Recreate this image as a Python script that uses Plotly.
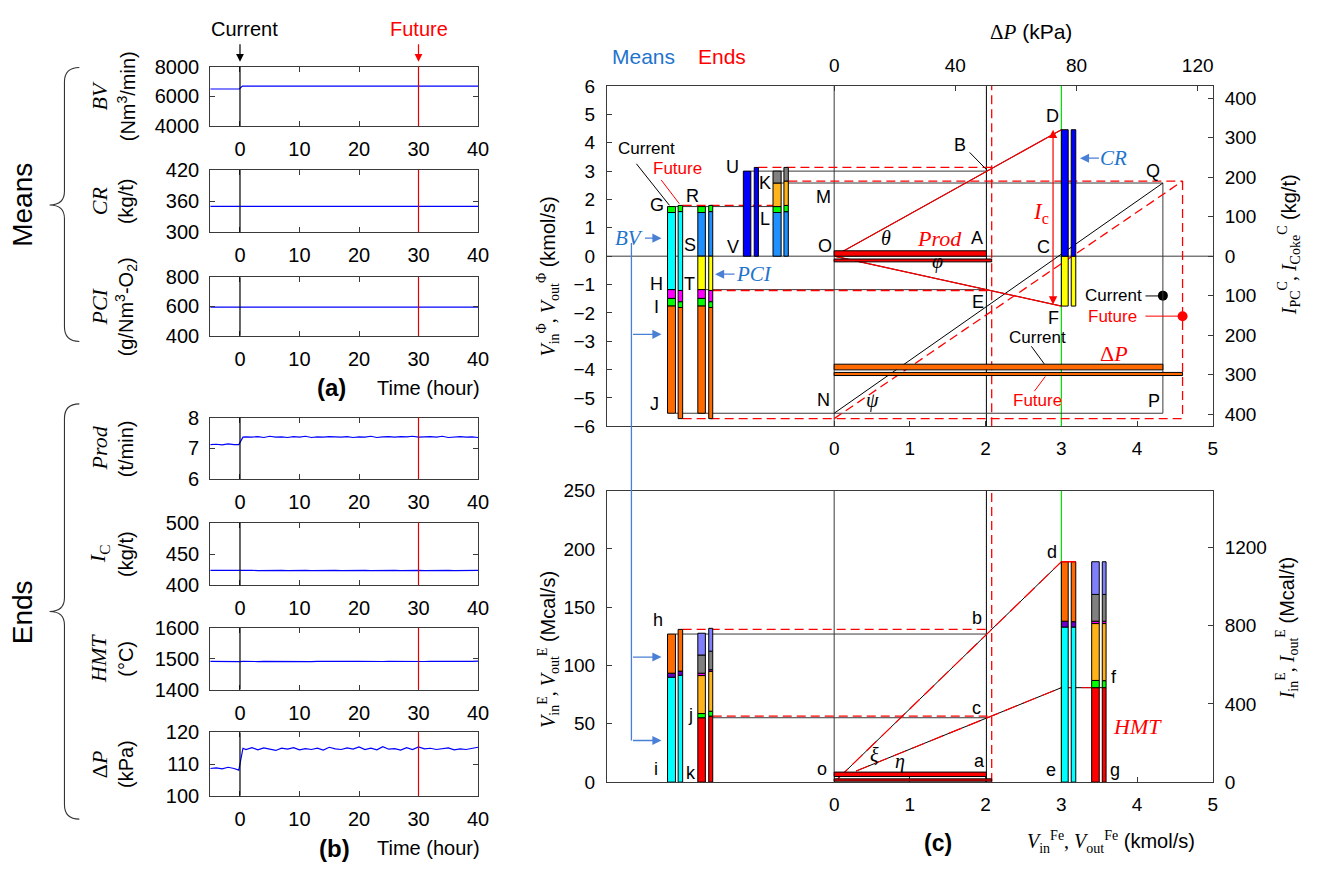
import plotly.graph_objects as go

W, H = 1327, 875
SANS = "Liberation Sans, Arial, sans-serif"
SERIF = "Liberation Serif, Times New Roman, serif"

# ---------------- (a), (b): time series ----------------
time_h = [-5, -4, -3, -2, -1, -0.2, 0.5, 1, 2, 3, 4, 5, 6, 7, 8, 9, 10, 11, 12, 13, 14, 15,
          16, 17, 18, 19, 20, 21, 22, 23, 24, 25, 26, 27, 28, 29, 30, 31, 32, 33, 34, 35,
          36, 37, 38, 39, 40]
bv_t = [-5, -0.1, 0.4, 40]
bv_vals = [6490, 6490, 6690, 6690]
cr_t = [-5, 40]
cr_vals = [350, 350]
pci_t = [-5, 40]
pci_vals = [595, 595]
prod_vals = [7.12, 7.13, 7.11, 7.14, 7.12, 7.12, 7.36,
             7.37, 7.36, 7.38, 7.35, 7.39, 7.36, 7.37, 7.35, 7.38, 7.36,
             7.39, 7.35, 7.37, 7.36, 7.38, 7.37, 7.36, 7.38, 7.35, 7.37,
             7.36, 7.39, 7.35, 7.37, 7.38, 7.36, 7.38, 7.37, 7.39, 7.36,
             7.37, 7.38, 7.36, 7.39, 7.35, 7.37, 7.38, 7.36, 7.37, 7.35]
ic_vals = [423.8, 423.5, 423.9, 423.6, 423.7, 423.6, 423.9,
           423.5, 423.8, 423.4, 423.7, 423.5, 423.9, 423.6, 423.4, 423.8, 423.5,
           423.7, 423.4, 423.8, 423.6, 423.5, 423.9, 423.4, 423.7, 423.5, 423.8,
           423.6, 423.4, 423.7, 423.5, 423.9, 423.6, 423.4, 423.8, 423.5, 423.7,
           423.4, 423.8, 423.6, 423.5, 423.9, 423.4, 423.7, 423.5, 423.8, 423.6]
hmt_vals = [1491.5, 1491.0, 1491.8, 1491.2, 1491.6, 1491.0, 1491.8,
            1491.2, 1491.9, 1491.0, 1491.5, 1491.2, 1492.0, 1491.4, 1491.1, 1491.8, 1491.3,
            1491.6, 1491.0, 1491.9, 1491.4, 1491.2, 1491.7, 1491.1, 1491.8, 1491.3, 1492.0,
            1491.5, 1491.1, 1491.7, 1491.2, 1491.9, 1491.4, 1491.0, 1491.8, 1491.3, 1491.6,
            1491.1, 1491.9, 1491.4, 1491.2, 1491.8, 1491.0, 1491.6, 1491.3, 1491.9, 1492.2]
dp_vals = [108.6, 108.8, 108.5, 109.0, 108.6, 108.1, 115.0,
           114.6, 115.2, 114.5, 115.1, 114.8, 114.3, 115.0, 114.7, 115.2, 114.5,
           114.9, 114.6, 115.0, 114.4, 115.3, 114.8, 114.6, 115.1, 114.7, 115.4,
           114.6, 115.0, 114.5, 115.5, 114.7, 114.9, 114.4, 115.2, 114.6, 115.4,
           114.8, 115.0, 114.6, 114.9, 115.1, 114.5, 114.8, 114.6, 114.9, 115.3]

# ---------------- (c) upper diagram: gas balance (kmol/s) ----------------
GREEN, CYAN, MAGENTA, ORANGE = "#00ff00", "#00ffff", "#ff00ff", "#ff6a00"
DBLUE, YELLOW, BLUE, GOLD = "#1e90ff", "#ffff00", "#0000ff", "#ffb31a"
GREY, PURPLE, PERI, RED = "#808080", "#6a00c8", "#8080ff", "#ff0000"

colGJ_cur = [1.75, 1.54, -1.18, -1.49, -1.76, -5.54]
colGJ_fut = [1.79, 1.57, -1.21, -1.61, -1.81, -5.73]
colGJ_colors = [GREEN, CYAN, MAGENTA, GREEN, ORANGE]
colRT_cur = [1.75, 1.54, 0.0, -1.18, -1.49, -1.76, -5.54]
colRT_fut = [1.79, 1.57, 0.0, -1.21, -1.61, -1.81, -5.73]
colRT_colors = [GREEN, DBLUE, YELLOW, MAGENTA, GREEN, ORANGE]
colUV_cur = [0.0, 3.00]
colUV_fut = [0.0, 3.13]
colUV_colors = [BLUE]
colKL_cur = [0.0, 1.54, 1.75, 2.58, 3.00]
colKL_fut = [0.0, 1.57, 1.79, 2.65, 3.13]
colKL_colors = [DBLUE, GREEN, GOLD, GREY]
colCR_cur = [-1.76, 0.0, 4.46]
colCR_fut = [-1.76, 0.0, 4.46]
colCR_colors = [YELLOW, BLUE]

vfe_cur, vfe_fut = 2.01, 2.08          # A (current), future
prod_bar_cur = [0.0, 0.19]
prod_bar_fut = [-0.20, -0.10]
kpa_to_x = 0.04                         # top axis: 120 kPa <-> 4.8
dp_cur_kpa, dp_fut_kpa = 108.5, 115.0
dp_bar_cur = [-4.01, -3.81]
dp_bar_fut = [-4.21, -4.10]
dot_kpa = [108.5, 115.0]                # Current / Future points
dot_kgt = [-100, -152]

# ---------------- (c) lower diagram: enthalpy balance (Mcal/s) ----------------
colhi_cur = [0, 90, 93.4, 127]
colhi_fut = [0, 91.7, 95.2, 131]
colhi_colors = [CYAN, PURPLE, ORANGE]
coljk_cur = [0, 55.2, 58.8, 91.4, 93.4, 109, 127.7]
coljk_fut = [0, 56.6, 60.8, 95.0, 96.4, 112.3, 131.9]
coljk_colors = [RED, GREEN, GOLD, MAGENTA, GREY, PERI]
colde_cur = [0, 133, 138, 189]
colde_fut = [0, 133, 137.6, 189]
colde_colors = [CYAN, PURPLE, ORANGE]
colfg_cur = [0, 81, 87.2, 136, 138, 161, 189]
colfg_fut = [0, 81, 87.0, 136, 138, 161, 189]
colfg_colors = [RED, GREEN, GOLD, MAGENTA, GREY, PERI]
red_bar_cur = [4.8, 8.6]
red_bar_fut = [0.8, 2.8]
xi_start = [0.05, 3]
eta_start = [0.29, 9.5]

# bar x-slots (layout)
SLOT_A = [(-2.20, -2.095), (-2.06, -2.00)]
SLOT_B = [(-1.80, -1.70), (-1.656, -1.603)]
SLOT_C = [(-1.199, -1.10), (-1.055, -1.00)]
SLOT_D = [(-0.807, -0.70), (-0.663, -0.605)]
SLOT_E = [(3.00, 3.09), (3.13, 3.19)]
SLOT_F = [(3.40, 3.50), (3.54, 3.59)]

fig = go.Figure()
shapes, annots = [], []


def dom_x(a, b):
    return [a / W, b / W]


def dom_y(top, bot):
    return [1 - bot / H, 1 - top / H]


def P(x, y):
    return x / W, 1 - y / H


def AX(size):
    return dict(showline=True, linecolor="#3a3a3a", linewidth=1, ticks="inside", ticklen=5,
                tickcolor="#3a3a3a", showgrid=False, zeroline=False,
                tickfont=dict(family=SANS, size=size, color="black"))


layout = dict(width=W, height=H, margin=dict(l=0, r=0, t=0, b=0), paper_bgcolor="white",
              plot_bgcolor="rgba(0,0,0,0)", showlegend=False,
              font=dict(family=SANS, size=17, color="black"))

left_panels = [
    (bv_t, bv_vals, 57, 118, [4000, 8000], [4000, 6000, 8000], "<i>BV</i>", "(Nm<sup>3</sup>/min)"),
    (cr_t, cr_vals, 163, 227, [300, 420], [300, 360, 420], "<i>CR</i>", "(kg/t)"),
    (pci_t, pci_vals, 273, 333, [400, 800], [400, 600, 800], "<i>PCI</i>", "(g/Nm<sup>3</sup>-O<sub>2</sub>)"),
    (time_h, prod_vals, 417, 480, [6, 8], [6, 7, 8], "<i>Prod</i>", "(t/min)"),
    (time_h, ic_vals, 525, 589, [400, 500], [400, 450, 500], "<i>I</i><sub>C</sub>", "(kg/t)"),
    (time_h, hmt_vals, 633, 696, [1400, 1600], [1400, 1500, 1600], "<i>HMT</i>", "(°C)"),
    (time_h, dp_vals, 740, 805, [100, 120], [100, 110, 120], "Δ<i>P</i>", "(kPa)"),
]

for i, (tx, vy, top, bot, rng, tv, ttl, unit) in enumerate(left_panels, start=1):
    xid = "x" if i == 1 else f"x{i}"
    yid = "y" if i == 1 else f"y{i}"
    layout["xaxis" if i == 1 else f"xaxis{i}"] = dict(
        AX(20), domain=dom_x(212, 482), range=[-5, 40], tickvals=[0, 10, 20, 30, 40],
        anchor=yid, mirror="ticks", ticklabelstandoff=5)
    layout["yaxis" if i == 1 else f"yaxis{i}"] = dict(
        AX(20), domain=dom_y(top, bot), range=rng, tickvals=tv, anchor=xid, mirror="ticks",
        ticklabelstandoff=6)
    fig.add_trace(go.Scatter(x=tx, y=vy, xaxis=xid, yaxis=yid, mode="lines",
                             line=dict(color="#0000ff", width=1.2), hoverinfo="skip"))
    shapes.append(dict(type="line", xref=xid, yref=f"{yid} domain", x0=0, x1=0, y0=0, y1=1,
                       line=dict(color="black", width=1.2)))
    shapes.append(dict(type="line", xref=xid, yref=f"{yid} domain", x0=30, x1=30, y0=0, y1=1,
                       line=dict(color="#e00000", width=1.2)))
    cy = (top + bot) / 2
    annots.append(dict(x=100 / W, y=1 - cy / H, xref="paper", yref="paper", text=ttl,
                       textangle=-90, showarrow=False, xanchor="center", yanchor="middle",
                       font=dict(family=SERIF, size=22)))
    annots.append(dict(x=127 / W, y=1 - cy / H, xref="paper", yref="paper", text=unit,
                       textangle=-90, showarrow=False, xanchor="center", yanchor="middle",
                       font=dict(family=SANS, size=20)))

# ---- main panels axes ----
layout["xaxis8"] = dict(AX(19), domain=dom_x(612, 1223), range=[-3, 5], tickvals=[0, 1, 2, 3, 4, 5],
                        anchor="y8", ticklabelstandoff=5)
layout["yaxis8"] = dict(AX(19), domain=dom_y(77, 426), range=[-6, 6], tickvals=list(range(-6, 7)),
                        anchor="x8", ticklabelstandoff=7)
layout["xaxis9"] = dict(AX(19), overlaying="x8", side="top", range=[-3 / kpa_to_x, 5 / kpa_to_x],
                        tickvals=[0, 40, 80, 120], anchor="y8", ticklabelstandoff=5)
layout["yaxis9"] = dict(AX(19), overlaying="y8", side="right", range=[-431, 431],
                        tickvals=[-400, -300, -200, -100, 0, 100, 200, 300, 400],
                        ticktext=["400", "300", "200", "100", "0", "100", "200", "300", "400"],
                        anchor="x8", ticklabelstandoff=7)
layout["xaxis10"] = dict(AX(19), domain=dom_x(612, 1223), range=[-3, 5], tickvals=[0, 1, 2, 3, 4, 5],
                         anchor="y10", mirror=True, ticklabelstandoff=5)
layout["yaxis10"] = dict(AX(19), domain=dom_y(492, 791), range=[0, 250],
                         tickvals=[0, 50, 100, 150, 200, 250], anchor="x10", ticklabelstandoff=7)
layout["yaxis11"] = dict(AX(19), overlaying="y10", side="right", range=[0, 1490],
                         tickvals=[0, 400, 800, 1200], anchor="x10", ticklabelstandoff=7)

for xa, ya in [("x9", "y8"), ("x8", "y9"), ("x10", "y11"), ("x8", "y8"), ("x10", "y10")]:
    fig.add_trace(go.Scatter(x=[None], y=[None], xaxis=xa, yaxis=ya, mode="markers",
                             hoverinfo="skip"))


def seg(xr, yr, x0, y0, x1, y1, color="#3a3a3a", width=1, dash=None):
    ln = dict(color=color, width=width)
    if dash:
        ln["dash"] = dash
    shapes.append(dict(type="line", xref=xr, yref=yr, x0=x0, y0=y0, x1=x1, y1=y1, line=ln))


def stack(xr, yr, slot, bounds, colors):
    for k, c in enumerate(colors):
        shapes.append(dict(type="rect", xref=xr, yref=yr, x0=slot[0], x1=slot[1],
                           y0=bounds[k], y1=bounds[k + 1], fillcolor=c,
                           line=dict(color="black", width=1)))


DASH = "9px,5px"
T, TY = "x8", "y8"
B, BY = "x10", "y10"
dpx_cur = dp_cur_kpa * kpa_to_x
dpx_fut = dp_fut_kpa * kpa_to_x

# ---- upper diagram lines ----
seg(T, TY, -3, 0, 5, 0)
seg(T, TY, 0, -6, 0, 6)
seg(T, TY, 3.0, -6, 3.0, 6, color="#00e000", width=1.2)
seg(B, BY, 3.0, 0, 3.0, 250, color="#00e000", width=1.2)
seg(T, TY, vfe_cur, -6, vfe_cur, 6, color="black")
seg(B, BY, vfe_cur, 0, vfe_cur, 250, color="black")
seg(B, BY, 0, 0, 0, 250)
seg(T, TY, SLOT_A[0][1], colGJ_cur[0], SLOT_D[0][0], colGJ_cur[0])
seg(T, TY, SLOT_C[0][1], colUV_cur[-1], vfe_cur, colUV_cur[-1])
seg(T, TY, SLOT_D[0][1], colKL_cur[3], dpx_cur, colKL_cur[3])
seg(T, TY, SLOT_B[0][1], colRT_cur[3], vfe_cur, colRT_cur[3])
seg(T, TY, SLOT_A[0][1], colGJ_cur[-1], dpx_cur, colGJ_cur[-1])
seg(T, TY, dpx_cur, colKL_cur[3], dpx_cur, colGJ_cur[-1])
seg(T, TY, 0, colGJ_cur[-1], dpx_cur, colKL_cur[3], color="black")
seg(T, TY, 0, 0, 3.0, colCR_cur[-1], color="black")
seg(T, TY, 0, 0, 3.0, colCR_cur[0], color="black")
# future (red dashed)
seg(T, TY, vfe_fut, -6, vfe_fut, 6, color=RED, width=1.3, dash=DASH)
seg(B, BY, vfe_fut, 0, vfe_fut, 250, color=RED, width=1.3, dash=DASH)
seg(T, TY, SLOT_A[1][1], colGJ_fut[0], SLOT_D[0][0], colGJ_fut[0], color=RED, width=1.3, dash=DASH)
seg(T, TY, SLOT_C[1][1], colUV_fut[-1], vfe_fut, colUV_fut[-1], color=RED, width=1.3, dash=DASH)
seg(T, TY, SLOT_D[1][1], colKL_fut[3], dpx_fut, colKL_fut[3], color=RED, width=1.3, dash=DASH)
seg(T, TY, SLOT_B[1][1], colRT_fut[3], vfe_fut, colRT_fut[3], color=RED, width=1.3, dash=DASH)
seg(T, TY, SLOT_A[1][1], colGJ_fut[-1], dpx_fut, colGJ_fut[-1], color=RED, width=1.3, dash=DASH)
seg(T, TY, dpx_fut, colKL_fut[3], dpx_fut, colGJ_fut[-1], color=RED, width=1.3, dash=DASH)
seg(T, TY, 0, colGJ_fut[-1], dpx_fut, colKL_fut[3], color=RED, width=1.3, dash=DASH)
seg(T, TY, 0, 0, 3.0, colCR_fut[-1], color=RED, width=1.2)
seg(T, TY, 0, 0, 3.0, colCR_fut[0], color=RED, width=1.2)

# ---- lower diagram lines ----
seg(B, BY, SLOT_A[0][1], colhi_cur[-1], vfe_cur, colhi_cur[-1])
seg(B, BY, SLOT_B[1][1], coljk_cur[1], vfe_cur, coljk_cur[1])
seg(B, BY, SLOT_A[1][1], colhi_fut[-1], vfe_fut, colhi_fut[-1], color=RED, width=1.3, dash=DASH)
seg(B, BY, SLOT_B[1][1], coljk_fut[1], vfe_fut, coljk_fut[1], color=RED, width=1.3, dash=DASH)
seg(B, BY, xi_start[0], xi_start[1], 3.0, colde_cur[-1], color="black")
seg(B, BY, eta_start[0], eta_start[1], 3.0, colfg_cur[1], color="black")
seg(B, BY, xi_start[0], xi_start[1], 3.0, colde_fut[-1], color=RED, width=1.2, dash="14px,6px")
seg(B, BY, eta_start[0], eta_start[1], 3.0, colfg_fut[1], color=RED, width=1.2, dash="14px,6px")
seg(B, BY, 3.0, colfg_cur[1], SLOT_F[1][1], colfg_cur[1], color="black")
seg(B, BY, 3.0, colfg_fut[1], SLOT_F[1][1], colfg_fut[1], color=RED, width=1, dash="14px,6px")

# ---- bars upper ----
for slot, cur, fut, cols in [(SLOT_A, colGJ_cur, colGJ_fut, colGJ_colors),
                             (SLOT_B, colRT_cur, colRT_fut, colRT_colors),
                             (SLOT_C, colUV_cur, colUV_fut, colUV_colors),
                             (SLOT_D, colKL_cur, colKL_fut, colKL_colors),
                             (SLOT_E, colCR_cur, colCR_fut, colCR_colors)]:
    stack(T, TY, slot[0], cur, cols)
    stack(T, TY, slot[1], fut, cols)

shapes.append(dict(type="rect", xref=T, yref=TY, x0=0, x1=vfe_cur, y0=prod_bar_cur[0],
                   y1=prod_bar_cur[1], fillcolor=RED, line=dict(color="black", width=1)))
shapes.append(dict(type="rect", xref=T, yref=TY, x0=0, x1=vfe_fut, y0=prod_bar_fut[0],
                   y1=prod_bar_fut[1], fillcolor=RED, line=dict(color="black", width=1)))
shapes.append(dict(type="rect", xref=T, yref=TY, x0=0, x1=dpx_cur, y0=dp_bar_cur[0],
                   y1=dp_bar_cur[1], fillcolor=ORANGE, line=dict(color="black", width=1)))
shapes.append(dict(type="rect", xref=T, yref=TY, x0=0, x1=dpx_fut, y0=dp_bar_fut[0],
                   y1=dp_bar_fut[1], fillcolor=ORANGE, line=dict(color="black", width=1)))

# ---- bars lower ----
for slot, cur, fut, cols in [(SLOT_A, colhi_cur, colhi_fut, colhi_colors),
                             (SLOT_B, coljk_cur, coljk_fut, coljk_colors),
                             (SLOT_E, colde_cur, colde_fut, colde_colors),
                             (SLOT_F, colfg_cur, colfg_fut, colfg_colors)]:
    stack(B, BY, slot[0], cur, cols)
    stack(B, BY, slot[1], fut, cols)
seg(B, BY, 3.0, colde_cur[-1], SLOT_E[1][1], colde_cur[-1], color=RED, width=1.5)
shapes.append(dict(type="rect", xref=B, yref=BY, x0=0, x1=vfe_cur, y0=red_bar_cur[0],
                   y1=red_bar_cur[1], fillcolor=RED, line=dict(color="black", width=1)))
shapes.append(dict(type="rect", xref=B, yref=BY, x0=0, x1=vfe_fut, y0=red_bar_fut[0],
                   y1=red_bar_fut[1], fillcolor=RED, line=dict(color="black", width=1)))

# ---- current / future points ----
fig.add_trace(go.Scatter(x=[dot_kpa[0]], y=[dot_kgt[0]], xaxis="x9", yaxis="y9", mode="markers",
                         marker=dict(color="black", size=10), hoverinfo="skip"))
fig.add_trace(go.Scatter(x=[dot_kpa[1]], y=[dot_kgt[1]], xaxis="x9", yaxis="y9", mode="markers",
                         marker=dict(color=RED, size=10), hoverinfo="skip"))

# ---- Ic double arrow ----
annots.append(dict(x=2.89, y=colCR_cur[-1], xref=T, yref=TY, ax=2.89, ay=colCR_cur[0],
                   axref=T, ayref=TY, text="", showarrow=True, arrowside="end+start",
                   arrowhead=2, arrowsize=1.4, arrowwidth=1.2, arrowcolor=RED))


# ---- leader lines (paper) ----
def pline(x0, y0, x1, y1, color="black", width=1):
    a, b = P(x0, y0)
    c, d = P(x1, y1)
    shapes.append(dict(type="line", xref="paper", yref="paper", x0=a, y0=b, x1=c, y1=d,
                       line=dict(color=color, width=width)))


pline(977.7, 145, 995, 163)
pline(641.7, 156.7, 675, 199.3)
pline(666.7, 173.3, 685, 197.7, color=RED)
pline(1040, 344, 1053, 362)
pline(1043, 390, 1054, 375, color=RED)
pline(1155, 292.3, 1170, 292.3)
pline(1155, 313, 1190, 313, color=RED)

# blue connector for BV
BLUEC = "#4a7fd6"
pline(636.7, 238, 636.7, 748.3, color=BLUEC, width=1.3)
for yy in [331.7, 662.7, 748.3]:
    xx, yv = P(667, yy)
    annots.append(dict(x=xx, y=yv, xref="paper", yref="paper", ax=-30, ay=0, text="",
                       showarrow=True, arrowhead=2, arrowsize=1.4, arrowwidth=1.3,
                       arrowcolor=BLUEC))


def txt(x, y, s, size=17, color="black", family=SANS, angle=0, **kw):
    a, b = P(x, y)
    d = dict(x=a, y=b, xref="paper", yref="paper", text=s, showarrow=False,
             font=dict(family=family, size=size, color=color), textangle=angle,
             xanchor="center", yanchor="middle")
    d.update(kw)
    annots.append(d)


def arrow_txt(hx, hy, dx, s, color, size=21):
    a, b = P(hx, hy)
    annots.append(dict(x=a, y=b, xref="paper", yref="paper", ax=dx, ay=0, text=s,
                       showarrow=True, arrowhead=2, arrowsize=1.4, arrowwidth=1.3,
                       arrowcolor=BLUEC, font=dict(family=SERIF, size=size, color=color)))


TXTBLUE = "#1f74cc"
arrow_txt(667, 233, -32, "<i>BV</i>", TXTBLUE)
arrow_txt(721, 270, 39, "<i>PCI</i>", TXTBLUE)
arrow_txt(1089, 151, 34, "<i>CR</i>", TXTBLUE)

# top arrows Current / Future
for tval, s, col in [(0, "Current", "black"), (30, "Future", RED)]:
    annots.append(dict(x=tval, y=1 - 52 / H, xref="x", yref="paper", ax=0, ay=-19, text="",
                       showarrow=True, arrowhead=2, arrowsize=1.3, arrowwidth=1.2,
                       arrowcolor=col))
txt(247, 18, "Current", 20)
txt(423, 18, "Future", 20, RED)

# letters upper
for (x, y, s) in [(662, 199, "G"), (698, 190, "R"), (739, 160, "U"), (771, 176, "K"),
                  (771, 213, "L"), (830, 191, "M"), (696, 240, "S"), (739, 242, "V"),
                  (832, 241, "O"), (662, 280, "H"), (695, 280, "T"), (662, 304, "I"),
                  (660, 403, "J"), (830, 399, "N"), (985, 233, "A"), (968, 137, "B"),
                  (986, 298, "E"), (1052, 242, "C"), (1061, 108, "D"), (1062, 315, "F"),
                  (1163, 164, "Q"), (1164, 400, "P")]:
    txt(x, y, s, 18)
txt(893, 233, "<i>θ</i>", 20, family=SERIF)
txt(945, 257, "<i>φ</i>", 20, family=SERIF)
txt(880, 400, "<i>ψ</i>", 20, family=SERIF)
txt(947, 233, "<i>Prod</i>", 22, RED, SERIF)
txt(1050, 207, "<i>I</i><sub>c</sub>", 23, RED, SERIF)
txt(1123, 351, "Δ<i>P</i>", 22, RED, SERIF)
txt(1046, 335, "Current", 17)
txt(1046, 400, "Future", 17, RED)
txt(1123, 292, "Current", 17)
txt(1122, 313, "Future", 17, RED)
txt(652, 141, "Current", 17)
txt(683, 162, "Future", 17, RED)

# letters lower
for (x, y, s) in [(664, 625, "h"), (696, 722, "j"), (661, 778, "i"), (697, 782, "k"),
                  (829, 778, "o"), (988, 769, "a"), (985, 623, "b"), (985, 715, "c"),
                  (1061, 555, "d"), (1060, 779, "e"), (1123, 683, "f"), (1124, 779, "g")]:
    txt(x, y, s, 18)
txt(882, 763, "<i>ξ</i>", 20, family=SERIF)
txt(908, 770, "<i>η</i>", 20, family=SERIF)
txt(1147, 734, "<i>HMT</i>", 22, RED, SERIF)

# titles
txt(23, 199, "Means", 28, angle=-90)
txt(23, 617, "Ends", 28, angle=-90)
txt(334, 386, "<b>(a)</b>", 24)
txt(432, 387, "Time (hour)", 20)
txt(337, 859, "<b>(b)</b>", 24)
txt(432, 859, "Time (hour)", 20)
txt(649, 47, "Means", 21, TXTBLUE)
txt(728, 47, "Ends", 21, RED)
txt(1040, 22, "<span style='font-family:Liberation Serif'>Δ<i>P</i></span> (kPa)", 21)
txt(946, 853, "<b>(c)</b>", 23)
txt(1120, 852, "<span style='font-family:Liberation Serif'><i>V</i><sub>in</sub><sup>Fe</sup>, "
               "<i>V</i><sub>out</sub><sup>Fe</sup></span> (kmol/s)", 20)
txt(553, 272, "<span style='font-family:Liberation Serif'><i>V</i><sub>in</sub><sup>Φ</sup>, "
              "<i>V</i><sub>out</sub><sup>Φ</sup></span> (kmol/s)", 20, angle=-90)
txt(553, 655, "<span style='font-family:Liberation Serif'><i>V</i><sub>in</sub><sup>E</sup>, "
              "<i>V</i><sub>out</sub><sup>E</sup></span> (Mcal/s)", 20, angle=-90)
txt(1300, 240, "<span style='font-family:Liberation Serif'><i>I</i><sub>PC</sub><sup>C</sup>, "
               "<i>I</i><sub>Coke</sub><sup>C</sup></span> (kg/t)", 20, angle=-90)
txt(1298, 633, "<span style='font-family:Liberation Serif'><i>I</i><sub>in</sub><sup>E</sup>, "
               "<i>I</i><sub>out</sub><sup>E</sup></span> (Mcal/t)", 20, angle=-90)


# braces
def brace(top, tip, bot, xr=80, xv=65, xt=50):
    def q(x, y):
        a, b = P(x, y)
        return f"{a:.5f},{b:.5f}"
    path = (f"M {q(xr, top)} Q {q(xv, top)} {q(xv, top + 15)} L {q(xv, tip - 14)} "
            f"Q {q(xv, tip)} {q(xt, tip)} Q {q(xv, tip)} {q(xv, tip + 14)} "
            f"L {q(xv, bot - 15)} Q {q(xv, bot)} {q(xr, bot)}")
    shapes.append(dict(type="path", xref="paper", yref="paper", path=path,
                       line=dict(color="#333333", width=1.1)))


brace(58, 199, 339)
brace(403, 616, 829)

layout["shapes"] = shapes
layout["annotations"] = annots
fig.update_layout(**layout)
fig.write_html("out.html")
